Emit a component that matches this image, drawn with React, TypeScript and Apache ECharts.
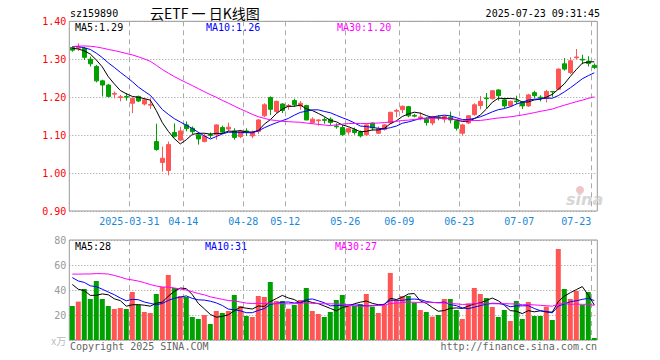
import React, { useEffect, useRef } from 'react';
import * as echarts from 'echarts';

const dates = [
  '2025-03-17','2025-03-18','2025-03-19','2025-03-20','2025-03-21','2025-03-24','2025-03-25','2025-03-26','2025-03-27','2025-03-28',
  '2025-03-31','2025-04-01','2025-04-02','2025-04-03','2025-04-07','2025-04-08','2025-04-09','2025-04-10','2025-04-11','2025-04-14',
  '2025-04-15','2025-04-16','2025-04-17','2025-04-18','2025-04-21','2025-04-22','2025-04-23','2025-04-24','2025-04-25','2025-04-28',
  '2025-04-29','2025-04-30','2025-05-06','2025-05-07','2025-05-08','2025-05-09','2025-05-12','2025-05-13','2025-05-14','2025-05-15',
  '2025-05-16','2025-05-19','2025-05-20','2025-05-21','2025-05-22','2025-05-23','2025-05-26','2025-05-27','2025-05-28','2025-05-29',
  '2025-05-30','2025-06-03','2025-06-04','2025-06-05','2025-06-06','2025-06-09','2025-06-10','2025-06-11','2025-06-12','2025-06-13',
  '2025-06-16','2025-06-17','2025-06-18','2025-06-19','2025-06-20','2025-06-23','2025-06-24','2025-06-25','2025-06-26','2025-06-27',
  '2025-06-30','2025-07-01','2025-07-02','2025-07-03','2025-07-04','2025-07-07','2025-07-08','2025-07-09','2025-07-10','2025-07-11',
  '2025-07-14','2025-07-15','2025-07-16','2025-07-17','2025-07-18','2025-07-21','2025-07-22','2025-07-23',
];

const opens = [
  1.331,1.329,1.329,1.300,1.281,1.243,1.232,1.208,1.199,1.202,
  1.184,1.202,1.182,1.179,1.083,1.028,1.007,1.107,1.087,1.127,
  1.118,1.101,1.083,1.101,1.101,1.120,1.116,1.111,1.096,1.111,
  1.098,1.110,1.151,1.199,1.162,1.182,1.176,1.191,1.177,1.178,
  1.133,1.138,1.141,1.142,1.124,1.120,1.108,1.114,1.108,1.101,
  1.132,1.105,1.115,1.132,1.163,1.167,1.175,1.152,1.146,1.142,
  1.132,1.148,1.142,1.147,1.138,1.105,1.132,1.154,1.178,1.198,
  1.196,1.219,1.193,1.177,1.190,1.186,1.177,1.212,1.200,1.197,
  1.215,1.221,1.288,1.265,1.304,1.300,1.295,1.284,
];
const closes = [
  1.324,1.331,1.305,1.288,1.243,1.232,1.202,1.210,1.201,1.200,
  1.197,1.190,1.193,1.181,1.062,1.039,1.075,1.097,1.111,1.117,
  1.109,1.090,1.098,1.099,1.127,1.108,1.121,1.094,1.110,1.109,
  1.106,1.140,1.180,1.168,1.189,1.165,1.178,1.180,1.184,1.140,
  1.142,1.140,1.139,1.133,1.122,1.101,1.117,1.107,1.098,1.127,
  1.119,1.117,1.127,1.160,1.165,1.176,1.151,1.150,1.148,1.133,
  1.149,1.146,1.149,1.140,1.118,1.127,1.151,1.180,1.189,1.196,
  1.217,1.204,1.177,1.189,1.188,1.177,1.206,1.204,1.198,1.215,
  1.214,1.274,1.274,1.296,1.306,1.298,1.289,1.278,
];
const lows = [
  1.320,1.322,1.298,1.281,1.239,1.202,1.199,1.197,1.189,1.191,
  1.158,1.187,1.178,1.169,1.059,1.004,0.994,1.094,1.084,1.110,
  1.103,1.075,1.081,1.092,1.088,1.103,1.110,1.088,1.092,1.098,
  1.092,1.103,1.147,1.153,1.158,1.158,1.167,1.175,1.167,1.139,
  1.130,1.125,1.130,1.126,1.117,1.098,1.101,1.101,1.094,1.098,
  1.112,1.103,1.112,1.129,1.147,1.158,1.147,1.147,1.139,1.125,
  1.126,1.139,1.133,1.131,1.112,1.099,1.129,1.151,1.168,1.171,
  1.194,1.191,1.171,1.175,1.182,1.169,1.174,1.197,1.189,1.186,
  1.201,1.219,1.270,1.261,1.300,1.287,1.281,1.274,
];
const highs = [
  1.334,1.342,1.333,1.307,1.285,1.246,1.235,1.215,1.206,1.211,
  1.199,1.204,1.197,1.197,1.130,1.070,1.083,1.131,1.122,1.136,
  1.123,1.107,1.104,1.107,1.128,1.125,1.133,1.118,1.114,1.118,
  1.112,1.142,1.184,1.202,1.191,1.184,1.182,1.196,1.190,1.180,
  1.147,1.142,1.147,1.147,1.131,1.127,1.120,1.120,1.112,1.130,
  1.133,1.123,1.129,1.162,1.169,1.178,1.177,1.156,1.160,1.147,
  1.151,1.153,1.152,1.162,1.140,1.130,1.153,1.184,1.203,1.211,
  1.218,1.221,1.197,1.191,1.204,1.190,1.209,1.217,1.205,1.219,
  1.216,1.276,1.303,1.305,1.327,1.312,1.308,1.289,
];
// volume, 万
const volumes = [
  27.2,30.7,40.8,32.8,47.2,32.8,27.2,24.8,25.6,24.8,
  38.4,28.0,22.4,21.6,36.8,42.4,52.0,41.6,35.2,34.4,
  18.4,16.8,20.0,12.8,23.2,21.6,23.2,36.0,27.2,19.2,
  18.4,35.2,34.4,46.4,31.2,31.2,25.0,28.0,32.0,41.6,
  23.2,20.8,18.4,22.4,32.0,36.0,27.2,27.2,28.8,36.8,
  26.7,21.6,28.0,53.6,32.0,35.2,35.2,29.9,24.0,22.4,
  18.7,20.0,32.8,32.8,24.0,16.8,29.3,41.6,36.8,33.6,
  26.4,18.4,24.0,15.2,31.2,16.8,30.4,19.2,19.2,26.7,
  16.0,72.8,40.8,32.8,39.2,28.0,38.4,1.6,
];
// sessions before the visible window (estimated from where the MA lines start)
const priorCloses = [
  1.30,1.29,1.31,1.30,1.32,1.31,1.30,1.31,1.32,1.31,
  1.34,1.36,1.37,1.38,1.37,1.36,1.37,1.36,1.35,
  1.34,1.33,1.34,1.33,1.34,1.35,
  1.34,1.33,1.33,1.32,
];
const priorVolumes = [
  34,36,33,38,35,36,
  58,65,70,62,55,60,68,72,64,58,60,62,56,62,
  58,52,60,54,53,
  50,46,52,47,
];
const labelDates = ['2025-03-31','2025-04-14','2025-04-28','2025-05-12','2025-05-26','2025-06-09','2025-06-23','2025-07-07','2025-07-23'];
const priceTicks = [0.9, 1.4, 0.1]; // min, max, step
const volumeTicks = [0, 80, 20];

function movingAverage(values: number[], prior: number[], n: number): number[] {
  const all = prior.concat(values);
  const off = prior.length;
  return values.map((_, i) => {
    const end = off + i;
    let s = 0;
    for (let k = end - n + 1; k <= end; k++) s += all[k];
    return s / n;
  });
}

const RED = '#ff5555';
const GREEN = '#00a000';
const MONO = '"DejaVu Sans Mono", monospace';
const XCOL = '#1a88d8';

export default function App() {
  const ref = useRef<HTMLDivElement>(null);
  useEffect(() => {
    if (!ref.current) return;
    const chart = echarts.init(ref.current, undefined, { renderer: 'svg' });
    const ma5 = movingAverage(closes, priorCloses, 5);
    const ma10 = movingAverage(closes, priorCloses, 10);
    const ma30 = movingAverage(closes, priorCloses, 30);
    const vma5 = movingAverage(volumes, priorVolumes, 5);
    const vma10 = movingAverage(volumes, priorVolumes, 10);
    const vma30 = movingAverage(volumes, priorVolumes, 30);
    const last = dates.length - 1;
    const labelIdx = new Set(labelDates.map((d) => dates.indexOf(d)));
    const firstLabel = dates.indexOf(labelDates[0]);
    const kdata = dates.map((_, i) => [opens[i], closes[i], lows[i], highs[i]]);
    const vdata = volumes.map((v, i) => ({
      value: v,
      itemStyle: { color: closes[i] >= opens[i] ? RED : GREEN },
    }));
    const fl = (x: number) => String(Math.floor(x + 1e-6));

    const txt = (text: string, x: number, y: number, fill: string, extra: any = {}) => ({
      type: 'text',
      x,
      y,
      silent: true,
      style: {
        text,
        fill,
        fontSize: 10,
        fontFamily: MONO,
        align: 'left',
        verticalAlign: 'middle',
        textAlign: 'left',
        textVerticalAlign: 'middle',
        ...extra,
      },
    });

    const splitX = {
      show: true,
      interval: (i: number) => labelIdx.has(i),
      lineStyle: { color: '#aaaaaa', type: [5, 4], width: 1 },
    };

    chart.setOption({
      animation: false,
      backgroundColor: '#ffffff',
      grid: [
        { left: 69.3, top: 21.3, width: 528, height: 189.7, show: true, borderColor: '#999999', borderWidth: 1 },
        { left: 69.3, top: 240, width: 528, height: 100, show: true, borderColor: '#999999', borderWidth: 1 },
      ],
      xAxis: [
        {
          type: 'category',
          gridIndex: 0,
          data: dates,
          boundaryGap: true,
          axisLine: { show: false },
          axisTick: { show: false },
          axisLabel: {
            interval: (i: number) => labelIdx.has(i),
            margin: 5,
            formatter: (v: string, i: number) => {
              if (i === firstLabel) return '{a|' + v + '}';
              if (i === last) return '{b|' + v.slice(5) + '}';
              return '{a|' + v.slice(5) + '}';
            },
            rich: {
              a: { color: XCOL, fontFamily: MONO, fontSize: 10, padding: [0, 6, 0, 0] },
              b: { color: XCOL, fontFamily: MONO, fontSize: 10, padding: [0, 36, 0, 0] },
            },
          },
          splitLine: splitX,
        },
        {
          type: 'category',
          gridIndex: 1,
          data: dates,
          boundaryGap: true,
          axisLine: { show: false },
          axisTick: { show: false },
          axisLabel: { show: false },
          splitLine: splitX,
        },
      ],
      yAxis: [
        {
          type: 'value',
          gridIndex: 0,
          min: priceTicks[0],
          max: priceTicks[1],
          interval: priceTicks[2],
          axisLine: { show: false },
          axisTick: { show: false },
          axisLabel: {
            color: '#ff0000',
            fontFamily: MONO,
            fontSize: 10,
            margin: 3,
            formatter: (v: number) => v.toFixed(2),
          },
          splitLine: { lineStyle: { color: '#999999', type: [1, 2], width: 1 } },
        },
        {
          type: 'value',
          gridIndex: 1,
          min: volumeTicks[0],
          max: volumeTicks[1],
          interval: volumeTicks[2],
          axisLine: { show: false },
          axisTick: { show: false },
          axisLabel: {
            color: '#999999',
            fontFamily: MONO,
            fontSize: 10,
            margin: 3,
            formatter: (v: number) => (v === 0 ? '{u|x万}' : String(v)),
            rich: { u: { color: '#bbbbbb', fontSize: 10, fontFamily: '"Noto Sans CJK SC", sans-serif' } },
          },
          splitLine: { lineStyle: { color: '#999999', type: [1, 2], width: 1 } },
        },
      ],
      series: [
        {
          type: 'candlestick',
          xAxisIndex: 0,
          yAxisIndex: 0,
          data: kdata,
          barWidth: 4,
          itemStyle: { color: RED, color0: GREEN, borderColor: RED, borderColor0: GREEN, borderWidth: 1 },
        },
        { type: 'line', xAxisIndex: 0, yAxisIndex: 0, data: ma5, showSymbol: false, lineStyle: { color: '#000000', width: 1 } },
        { type: 'line', xAxisIndex: 0, yAxisIndex: 0, data: ma10, showSymbol: false, lineStyle: { color: '#0000ff', width: 1 } },
        { type: 'line', xAxisIndex: 0, yAxisIndex: 0, data: ma30, showSymbol: false, lineStyle: { color: '#ff00ff', width: 1 } },
        { type: 'bar', xAxisIndex: 1, yAxisIndex: 1, data: vdata, barWidth: 5 },
        { type: 'line', xAxisIndex: 1, yAxisIndex: 1, data: vma5, showSymbol: false, lineStyle: { color: '#000000', width: 1 } },
        { type: 'line', xAxisIndex: 1, yAxisIndex: 1, data: vma10, showSymbol: false, lineStyle: { color: '#0000ff', width: 1 } },
        { type: 'line', xAxisIndex: 1, yAxisIndex: 1, data: vma30, showSymbol: false, lineStyle: { color: '#ff00ff', width: 1 } },
      ],
      graphic: [
        txt('sz159890', 70, 13, '#000000'),
        txt('云ETF 一 日K线图', 150, 13, '#000000', { fontSize: 14, fontFamily: '"Noto Sans CJK SC", sans-serif' }),
        txt('2025-07-23 09:31:45', 600, 13, '#000000', { align: 'right', textAlign: 'right' }),
        txt('MA5:' + ma5[last].toFixed(2), 75, 27, '#000000'),
        txt('MA10:' + ma10[last].toFixed(2), 206, 27, '#0000ff'),
        txt('MA30:' + ma30[last].toFixed(2), 337, 27, '#ff00ff'),
        txt('MA5:' + fl(vma5[last]), 75, 246, '#000000'),
        txt('MA10:' + fl(vma10[last]), 205, 246, '#0000ff'),
        txt('MA30:' + fl(vma30[last]), 335, 246, '#ff00ff'),
        txt('Copyright 2025 SINA.COM', 70, 346, '#666666'),
        txt('http://finance.sina.com.cn', 597, 346, '#666666', { align: 'right', textAlign: 'right' }),
        { type: 'circle', silent: true, shape: { cx: 580, cy: 190, r: 4 }, style: { fill: '#efc4c4' } },
        txt('sina', 566, 199, '#d6d6d6', { fontSize: 16, fontStyle: 'italic', fontWeight: 'bold', fontFamily: '"DejaVu Sans", sans-serif' }),
      ],
    });
    return () => chart.dispose();
  }, []);
  return <div ref={ref} style={{ position: 'absolute', left: 0, top: 0, width: 660, height: 360 }} />;
}
